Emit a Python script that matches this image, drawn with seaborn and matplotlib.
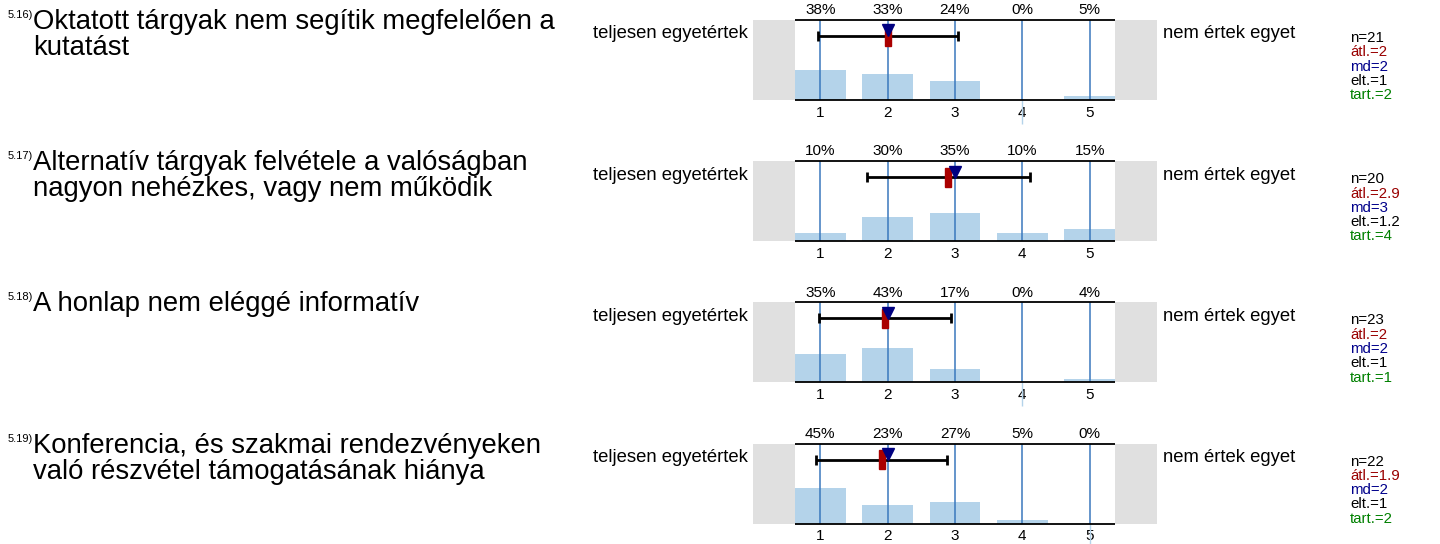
import matplotlib
matplotlib.use("Agg")
import matplotlib.pyplot as plt
from matplotlib.patches import Rectangle
import pandas as pd
import seaborn as sns

sns.set_theme(style="white", rc={"text.color": "black", "xtick.color": "black",
                                 "axes.labelcolor": "black"})
plt.rcParams["font.family"] = ["Liberation Sans", "DejaVu Sans"]

# Survey items
item_ids = ["5.16)", "5.17)", "5.18)", "5.19)"]
questions = [
    "Oktatott tárgyak nem segítik megfelelően a\nkutatást",
    "Alternatív tárgyak felvétele a valóságban\nnagyon nehézkes, vagy nem működik",
    "A honlap nem eléggé informatív",
    "Konferencia, és szakmai rendezvényeken\nvaló részvétel támogatásának hiánya",
]
scale = [1, 2, 3, 4, 5]

# Answer shares (%) per scale point
pct_516 = [38, 33, 24, 0, 5]
pct_517 = [10, 30, 35, 10, 15]
pct_518 = [35, 43, 17, 0, 4]
pct_519 = [45, 23, 27, 5, 0]

# Summary statistics per item
n_vals = [21, 20, 23, 22]
means = [2.0, 2.9, 1.96, 1.91]
medians = [2, 3, 2, 2]
sds = [1.04, 1.21, 0.98, 0.97]
abstain = [2, 4, 1, 2]

left_label = "teljesen egyetértek"
right_label = "nem értek egyet"

shares = [pct_516, pct_517, pct_518, pct_519]

W, H = 1440, 544
fig = plt.figure(figsize=(W / 100, H / 100), dpi=100)

BAR_C = "#b4d3ea"
GRID_C = "#3a78bd"
GRAY_C = "#e0e0e0"
MEAN_C = "#aa0000"
MED_C = "#000080"


def fmt(v):
    return f"{round(v, 1):g}"


for i in range(4):
    top = 20 + 141.2 * i
    ax = fig.add_axes([753 / W, 1 - (top + 80) / H, 404 / W, 80 / H])
    df = pd.DataFrame({"score": scale, "share": [p / 100 for p in shares[i]]})

    ax.axvspan(0, 0.625, color=GRAY_C, lw=0, zorder=0)
    ax.axvspan(5.375, 6, color=GRAY_C, lw=0, zorder=0)

    sns.barplot(data=df, x="score", y="share", native_scale=True, width=0.75,
                color=BAR_C, saturation=1, linewidth=0, errorbar=None, ax=ax,
                zorder=1)

    ax.vlines(scale, 0, 1, color=GRID_C, lw=1.1, zorder=2)
    for x, p in zip(scale, shares[i]):
        if p == 0:
            ax.vlines(x, -0.3, 0, color=BAR_C, lw=1, clip_on=False, zorder=2)
    ax.hlines([0, 1], 0.625, 5.375, color="black", lw=1.3, clip_on=False, zorder=3)

    ax.errorbar(means[i], 0.8, xerr=sds[i], color="black", lw=2, capsize=3.6,
                capthick=2, zorder=4)
    ax.add_patch(Rectangle((means[i] - 0.045, 0.68), 0.09, 0.24, color=MEAN_C,
                           zorder=5))
    ax.plot(medians[i], 0.87, marker="v", color=MED_C, markersize=9, zorder=6)

    for x, p in zip(scale, shares[i]):
        ax.annotate(f"{p}%", xy=(x, 1), xytext=(0, 2), textcoords="offset points",
                    ha="center", va="bottom", fontsize=11, color="black")

    ax.set_xlim(0, 6)
    ax.set_ylim(0, 1)
    ax.set_xticks(scale)
    ax.set_xticklabels([str(s) for s in scale], fontsize=11)
    ax.tick_params(axis="x", length=0, pad=4)
    ax.set_yticks([])
    ax.set_xlabel("")
    ax.set_ylabel("")
    for s in ax.spines.values():
        s.set_visible(False)

    fig.text(748 / W, 1 - (top + 14) / H, left_label, ha="right", va="center",
             fontsize=13.3)
    fig.text(1163 / W, 1 - (top + 14) / H, right_label, ha="left", va="center",
             fontsize=13.3)

    fig.text(33 / W, 1 - (top - 11) / H, questions[i], ha="left", va="top",
             fontsize=19.8, linespacing=1.0)
    fig.text(8 / W, 1 - (top - 10) / H, item_ids[i], ha="left", va="top",
             fontsize=8)

    stats = [(f"n={n_vals[i]}", "black"),
             (f"átl.={fmt(means[i])}", "#990000"),
             (f"md={medians[i]}", "#00008b"),
             (f"elt.={fmt(sds[i])}", "black"),
             (f"tart.={abstain[i]}", "#008000")]
    for k, (txt, col) in enumerate(stats):
        fig.text(1350 / W, 1 - (top + 18 + 14.3 * k) / H, txt, ha="left",
                 va="center", fontsize=10.8, color=col)

fig.savefig("out.png", dpi=100)
